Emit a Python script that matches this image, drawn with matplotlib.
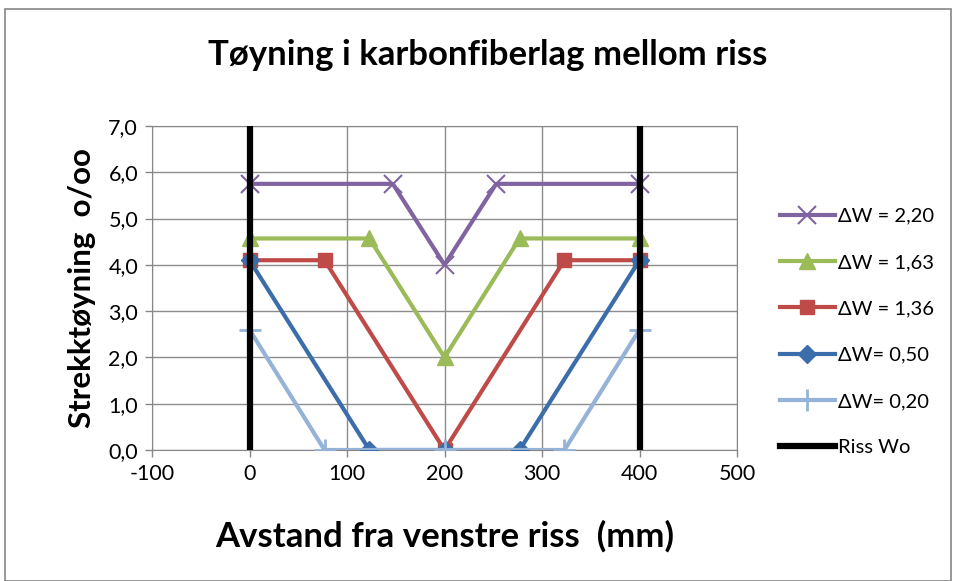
import matplotlib.pyplot as plt
from matplotlib.patches import Rectangle
import numpy as np

# data
x_220 = [0, 147, 200, 253, 400]
y_220 = [5.75, 5.75, 4.0, 5.75, 5.75]
x_163 = [0, 123, 200, 277, 400]
y_163 = [4.57, 4.57, 2.0, 4.57, 4.57]
x_136 = [0, 77, 200, 323, 400]
y_136 = [4.1, 4.1, 0.0, 4.1, 4.1]
x_050 = [0, 123, 200, 277, 400]
y_050 = [4.1, 0.0, 0.0, 0.0, 4.1]
x_020 = [0, 77, 200, 323, 400]
y_020 = [2.6, 0.0, 0.0, 0.0, 2.6]
x_riss = [0, 0, np.nan, 400, 400]
y_riss = [0, 7, np.nan, 0, 7]

xticks = [-100, 0, 100, 200, 300, 400, 500]
yticks = [0, 1, 2, 3, 4, 5, 6, 7]

plt.rcParams['font.family'] = ['Lato', 'DejaVu Sans']

W, H = 955, 581
fig = plt.figure(figsize=(W / 100, H / 100), dpi=100)
fig.patches.append(Rectangle((5 / W, 0), 946 / W, 572 / H, transform=fig.transFigure,
                             fill=False, edgecolor='#868686', lw=1.2))

ax = fig.add_axes([152 / W, 1 - 450 / H, (737 - 152) / W, (450 - 126) / H])

lw = 3
ax.plot(x_220, y_220, color='#8064A2', lw=lw, marker='x', ms=13, mew=1.5, label='ΔW = 2,20', zorder=3)
ax.plot(x_163, y_163, color='#9BBB59', lw=lw, marker='^', ms=12, label='ΔW = 1,63', zorder=3)
ax.plot(x_136, y_136, color='#BE4B48', lw=lw, marker='s', ms=10, label='ΔW = 1,36', zorder=3)
ax.plot(x_050, y_050, color='#3A6DAA', lw=lw, marker='D', ms=9, label='ΔW= 0,50', zorder=3)
ax.plot(x_020, y_020, color='#95B3D7', lw=lw, marker='+', ms=16, mew=2, label='ΔW= 0,20', zorder=3)
ax.plot(x_riss, y_riss, color='black', lw=4.5, label='Riss Wo', zorder=4)

ax.set_xlim(-100, 500)
ax.set_ylim(0, 7)
ax.set_xticks(xticks)
ax.set_yticks(yticks)
ax.set_xticklabels([str(t) for t in xticks])
ax.set_yticklabels([f'{t:.1f}'.replace('.', ',') for t in yticks])
ax.tick_params(labelsize=15.5, length=5, color='#868686', width=1, pad=5)
ax.grid(True, color='#8c8c8c', lw=1)
ax.set_axisbelow(True)
for s in ax.spines.values():
    s.set_color('#868686')

ax.set_xlabel('Avstand fra venstre riss  (mm)', fontsize=25, fontweight='bold', labelpad=26)
ax.set_ylabel('Strekktøyning  o/oo', fontsize=22.5, fontweight='bold', labelpad=9)
fig.text(488 / W, 1 - 55 / H, 'Tøyning i karbonfiberlag mellom riss', fontsize=25,
         fontweight='bold', ha='center', va='center')

ax.legend(loc='center left', bbox_to_anchor=(762 / W, 1 - 332 / H), bbox_transform=fig.transFigure,
          frameon=False, fontsize=14.5, handlelength=2.7, labelspacing=1.45, handletextpad=0.15)

fig.savefig('out.png', dpi=100)
